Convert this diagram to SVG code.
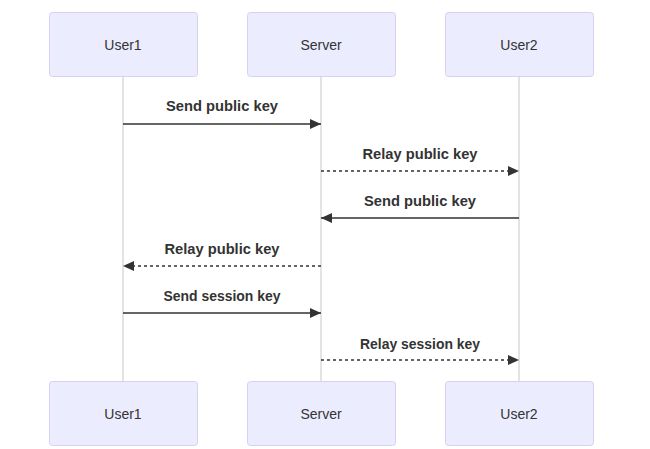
<svg xmlns="http://www.w3.org/2000/svg" width="650" height="449" viewBox="0 0 650 449">
<style>
.actor rect{fill:#ECECFF;stroke:#dacef3;stroke-width:1}
.actor text{font-family:"Liberation Sans",Arial,sans-serif;font-size:14px;fill:#333;text-anchor:middle;dominant-baseline:central}
.life{stroke:#c8c8c8;stroke-width:1}
.msg{stroke:#333;stroke-width:1.5;fill:none}
.dash{stroke-dasharray:3,3}
.lbl{font-family:"Liberation Sans",Arial,sans-serif;font-size:15.5px;font-weight:bold;fill:#333;text-anchor:middle}
</style>
<defs>
<marker id="ah" markerUnits="userSpaceOnUse" markerWidth="12" markerHeight="12" viewBox="0 0 12 10" refX="11" refY="5" orient="auto">
<path d="M0 0 L11 5 L0 10 z" fill="#333"/>
</marker>
</defs>
<g id="lifelines">
<line class="life" x1="123" y1="76" x2="123" y2="381"/>
<line class="life" x1="321" y1="76" x2="321" y2="381"/>
<line class="life" x1="519" y1="76" x2="519" y2="381"/>
</g>
<g id="user1-top" class="actor"><rect x="49.5" y="12.5" width="148" height="64" rx="3"/><text x="123" y="45">User1</text></g>
<g id="server-top" class="actor"><rect x="247.5" y="12.5" width="148" height="64" rx="3"/><text x="321" y="45">Server</text></g>
<g id="user2-top" class="actor"><rect x="445.5" y="12.5" width="148" height="64" rx="3"/><text x="519" y="45">User2</text></g>
<g id="user1-bottom" class="actor"><rect x="49.5" y="381.5" width="148" height="64" rx="3"/><text x="123" y="414">User1</text></g>
<g id="server-bottom" class="actor"><rect x="247.5" y="381.5" width="148" height="64" rx="3"/><text x="321" y="414">Server</text></g>
<g id="user2-bottom" class="actor"><rect x="445.5" y="381.5" width="148" height="64" rx="3"/><text x="519" y="414">User2</text></g>
<g id="connectors">
<line class="msg" x1="123" y1="124" x2="321" y2="124" marker-end="url(#ah)"/>
<text class="lbl" x="222" y="111" textLength="112" lengthAdjust="spacingAndGlyphs">Send public key</text>
<line class="msg dash" x1="321" y1="171" x2="519" y2="171" marker-end="url(#ah)"/>
<text class="lbl" x="420" y="159" textLength="115" lengthAdjust="spacingAndGlyphs">Relay public key</text>
<line class="msg" x1="519" y1="218" x2="321" y2="218" marker-end="url(#ah)"/>
<text class="lbl" x="420" y="206" textLength="112" lengthAdjust="spacingAndGlyphs">Send public key</text>
<line class="msg dash" x1="321" y1="266" x2="123" y2="266" marker-end="url(#ah)"/>
<text class="lbl" x="222" y="254" textLength="115" lengthAdjust="spacingAndGlyphs">Relay public key</text>
<line class="msg" x1="123" y1="313" x2="321" y2="313" marker-end="url(#ah)"/>
<text class="lbl" x="222" y="301" textLength="117" lengthAdjust="spacingAndGlyphs">Send session key</text>
<line class="msg dash" x1="321" y1="360" x2="519" y2="360" marker-end="url(#ah)"/>
<text class="lbl" x="420" y="349" textLength="120" lengthAdjust="spacingAndGlyphs">Relay session key</text>
</g>
</svg>
